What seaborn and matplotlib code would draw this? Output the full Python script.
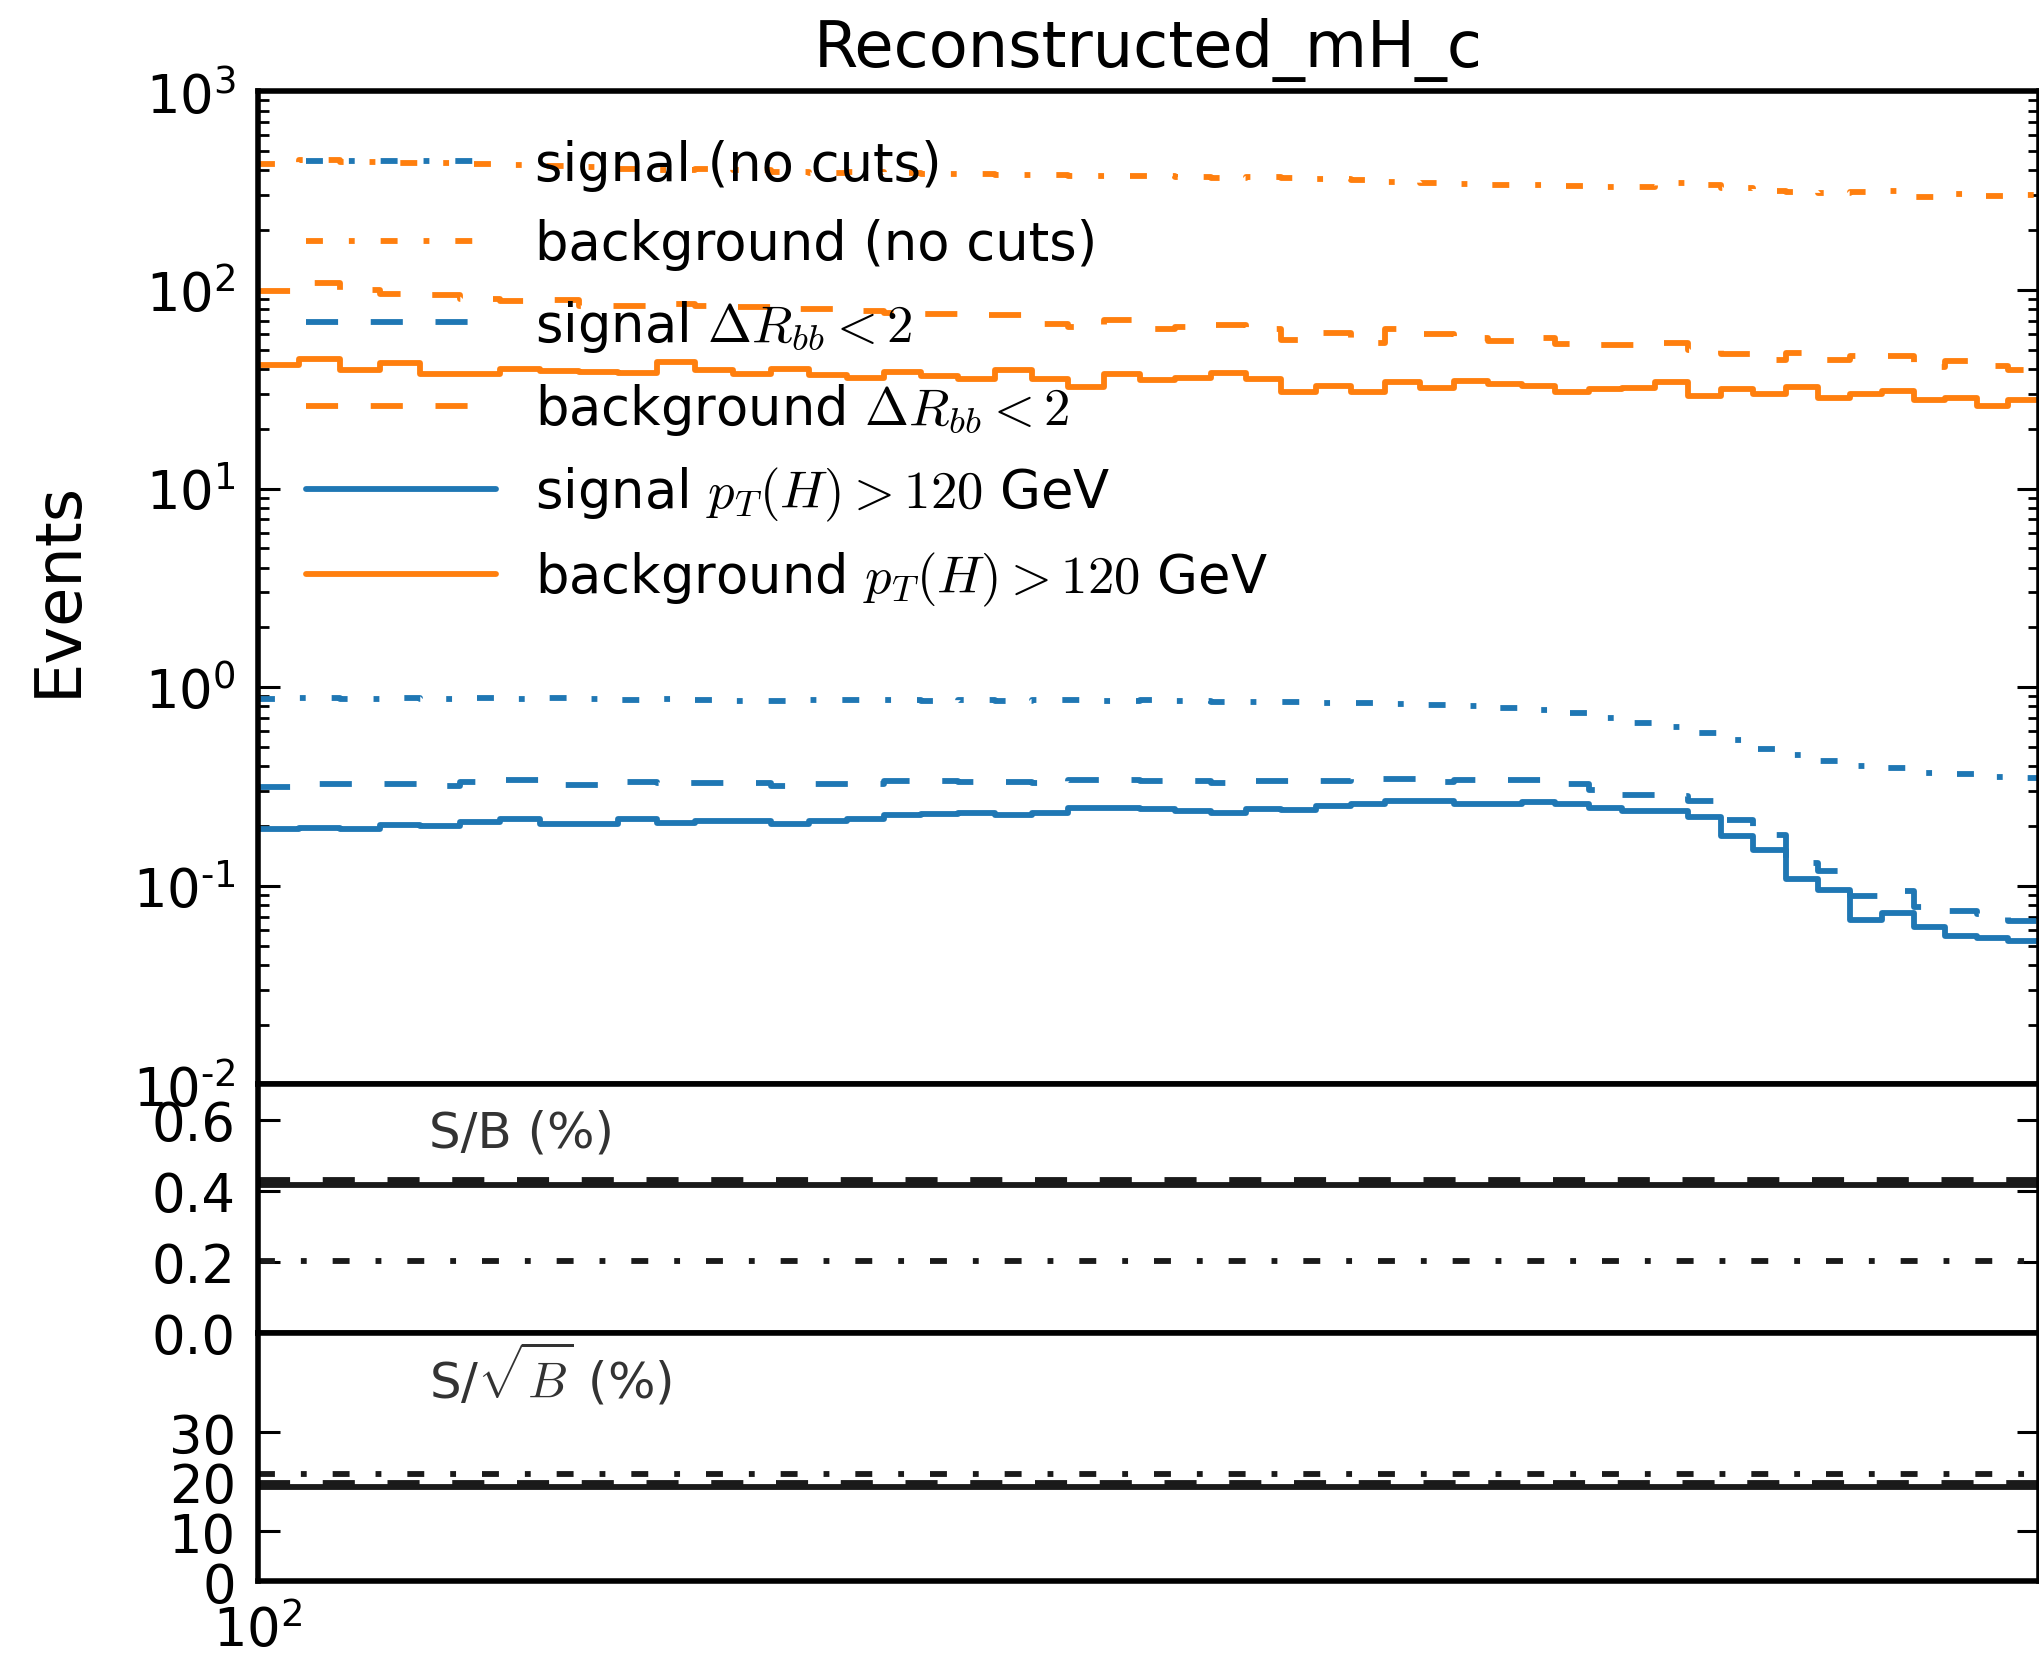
import numpy as np
import matplotlib
matplotlib.use("Agg")
import matplotlib.pyplot as plt
import matplotlib.ticker as mticker
import seaborn as sns

# ============================
# Data
# ============================

# 50 bins of reconstructed mH between 100 and 132.5 GeV
mass_lo = 100.0
mass_hi = 132.5
n_bins = 50

sig_nocut = [0.87, 0.88, 0.87, 0.88, 0.87, 0.88, 0.87, 0.88, 0.87, 0.86,
             0.87, 0.86, 0.85, 0.85, 0.86, 0.86, 0.86, 0.85, 0.86, 0.85,
             0.86, 0.86, 0.85, 0.86, 0.85, 0.84, 0.84, 0.84, 0.83, 0.83,
             0.82, 0.81, 0.80, 0.79, 0.77, 0.74, 0.70, 0.66, 0.63, 0.59,
             0.54, 0.49, 0.455, 0.425, 0.40, 0.39, 0.37, 0.365, 0.355, 0.348]

bkg_nocut = [433, 450, 441, 436, 434, 433, 425, 420, 416, 408,
             400, 408, 400, 393, 390, 392, 386, 384, 382, 378,
             380, 376, 373, 374, 370, 368, 369, 366, 364, 358,
             348, 346, 340, 339, 336, 334, 331, 330, 345, 338,
             325, 315, 312, 309, 311, 315, 294, 306, 296, 302]

sig_dr = [0.316, 0.326, 0.326, 0.326, 0.319, 0.334, 0.341, 0.321, 0.321, 0.335,
          0.328, 0.328, 0.328, 0.318, 0.325, 0.326, 0.336, 0.338, 0.334, 0.334,
          0.331, 0.341, 0.341, 0.338, 0.338, 0.331, 0.337, 0.336, 0.337, 0.345,
          0.345, 0.335, 0.341, 0.341, 0.341, 0.327, 0.304, 0.287, 0.285, 0.266,
          0.215, 0.181, 0.131, 0.119, 0.089, 0.094, 0.0787, 0.075, 0.072, 0.0667]

bkg_dr = [98.7, 108.0, 100.3, 95.7, 94.7, 90.4, 87.6, 88.6, 82.7, 82.7,
          85.0, 82.7, 82.0, 80.0, 80.0, 78.0, 77.0, 76.0, 75.0, 74.5,
          67.6, 65.0, 70.8, 63.8, 65.0, 66.9, 63.8, 56.2, 61.0, 54.0,
          63.8, 60.0, 57.5, 55.1, 57.4, 53.2, 53.0, 52.6, 54.0, 49.7,
          47.7, 44.5, 48.0, 44.2, 46.3, 46.3, 40.9, 43.7, 41.5, 39.4]

sig_pt = [0.193, 0.195, 0.194, 0.203, 0.201, 0.209, 0.217, 0.204, 0.204, 0.217,
          0.208, 0.213, 0.213, 0.205, 0.212, 0.216, 0.228, 0.229, 0.234, 0.228,
          0.233, 0.248, 0.246, 0.245, 0.239, 0.234, 0.243, 0.242, 0.251, 0.258,
          0.268, 0.268, 0.258, 0.258, 0.265, 0.259, 0.248, 0.239, 0.239, 0.223,
          0.179, 0.151, 0.108, 0.0953, 0.0673, 0.073, 0.0622, 0.0556, 0.0546, 0.0529]

bkg_pt = [42.0, 45.1, 39.7, 42.8, 37.9, 37.6, 39.8, 39.0, 38.6, 38.2,
          43.3, 39.7, 37.6, 39.9, 37.5, 36.2, 38.5, 36.8, 35.5, 39.4,
          35.8, 32.4, 37.6, 35.3, 36.0, 38.2, 35.8, 30.6, 33.0, 30.8,
          34.4, 32.2, 35.0, 33.7, 33.0, 30.6, 31.6, 32.0, 34.4, 29.4,
          31.8, 30.0, 32.4, 28.7, 30.0, 31.0, 27.8, 28.6, 26.2, 27.8]

# integrated S/B and S/sqrt(B) (in %) for the three selections
sb_values = {"nocut": 0.202, "dr": 0.43, "pt": 0.418}
ssb_values = {"nocut": 21.5, "dr": 19.7, "pt": 18.85}

legend_labels = [
    "signal (no cuts)",
    "background (no cuts)",
    r"signal $\Delta R_{bb} < 2$",
    r"background $\Delta R_{bb} < 2$",
    r"signal $p_T(H) > 120$ GeV",
    r"background $p_T(H) > 120$ GeV",
]

# ============================
# Style
# ============================
sns.set_theme(style="ticks", rc={
    "axes.edgecolor": "black",
    "axes.linewidth": 2.0,
    "xtick.color": "black",
    "ytick.color": "black",
    "text.color": "black",
    "axes.labelcolor": "black",
    "xtick.direction": "in",
    "ytick.direction": "in",
    "xtick.top": True,
    "ytick.right": True,
    "xtick.major.size": 8,
    "ytick.major.size": 8,
    "xtick.minor.size": 4,
    "ytick.minor.size": 4,
    "xtick.major.width": 1.1,
    "ytick.major.width": 1.1,
    "xtick.minor.width": 1.0,
    "ytick.minor.width": 1.0,
    "xtick.major.pad": 8,
    "ytick.major.pad": 8,
})
plt.rcParams["font.family"] = ["DejaVu Sans"]
plt.rcParams["mathtext.fontset"] = "cm"

palette = sns.color_palette("tab10")
blue, orange = palette[0], palette[1]

LW = 2.1
DASHDOT = (0, (2.9, 4.45, 1.0, 4.45))
DASHED = (0, (5.5, 5.6))
SOLID = "-"

edges = np.linspace(mass_lo, mass_hi, n_bins + 1)


def step_line(ax, values, color, ls, label):
    """Draw one histogram as a step line."""
    y = np.append(values, values[-1])
    sns.lineplot(x=edges, y=y, ax=ax, color=color, linestyle=ls, lw=LW,
                 drawstyle="steps-post", label=label, legend=False)


def decade_label(val, pos):
    """10^n tick label with a short hyphen for negative powers."""
    if val <= 0:
        return ""
    exp = int(np.round(np.log10(val)))
    return r"$\mathdefault{10^{%s}}$" % str(exp).replace("-", "\u2010")


# ============================
# Figure
# ============================
fig = plt.figure(figsize=(10.2, 8.29), dpi=200)
gs = fig.add_gridspec(3, 1, height_ratios=[4, 1, 1], hspace=0,
                      left=0.1265, right=0.9995, top=0.9443, bottom=0.0458)
ax_top = fig.add_subplot(gs[0])
ax_mid = fig.add_subplot(gs[1], sharex=ax_top)
ax_bot = fig.add_subplot(gs[2], sharex=ax_top)

series = [
    (sig_nocut, blue, DASHDOT),
    (bkg_nocut, orange, DASHDOT),
    (sig_dr, blue, DASHED),
    (bkg_dr, orange, DASHED),
    (sig_pt, blue, SOLID),
    (bkg_pt, orange, SOLID),
]
for (vals, col, ls), lab in zip(series, legend_labels):
    step_line(ax_top, vals, col, ls, lab)

ax_top.set_xscale("log")
ax_top.set_yscale("log")
ax_top.set_xlim(mass_lo, mass_hi)
ax_top.set_ylim(1e-2, 1e3)
ax_top.yaxis.set_major_locator(mticker.LogLocator(base=10, numticks=10))
ax_top.yaxis.set_major_formatter(mticker.FuncFormatter(decade_label))
ax_top.yaxis.set_minor_locator(mticker.LogLocator(base=10, subs=np.arange(2, 10), numticks=20))
ax_top.yaxis.set_minor_formatter(mticker.NullFormatter())
ax_top.xaxis.set_minor_locator(mticker.NullLocator())

ax_top.set_title("Reconstructed_mH_c", fontsize=23, pad=9)
ax_top.set_ylabel("Events", fontsize=23)
ax_top.yaxis.set_label_coords(-0.095, 0.5)

handles, labels = ax_top.get_legend_handles_labels()
ax_top.legend(handles, labels, loc="upper left", frameon=False, fontsize=19,
              handlelength=3.6, handletextpad=0.75, labelspacing=0.52,
              borderaxespad=0.5)

# S/B panel
ax_mid.axhline(sb_values["nocut"], color="k", lw=LW, linestyle=DASHDOT)
ax_mid.axhline(sb_values["dr"], color="k", lw=LW, linestyle=DASHED)
ax_mid.axhline(sb_values["pt"], color="k", lw=LW, linestyle=SOLID)
ax_mid.set_ylim(0, 0.7)
ax_mid.set_yticks([0.0, 0.2, 0.4, 0.6])
ax_mid.yaxis.set_major_formatter(mticker.FormatStrFormatter("%.1f"))
ax_mid.text(0.096, 0.75, "S/B (%)", transform=ax_mid.transAxes,
            fontsize=18, color="0.2")

# S/sqrt(B) panel
ax_bot.axhline(ssb_values["nocut"], color="k", lw=LW, linestyle=DASHDOT)
ax_bot.axhline(ssb_values["dr"], color="k", lw=LW, linestyle=DASHED)
ax_bot.axhline(ssb_values["pt"], color="k", lw=LW, linestyle=SOLID)
ax_bot.set_ylim(0, 50)
ax_bot.set_yticks([0, 10, 20, 30])
ax_bot.text(0.096, 0.745, r"S/$\sqrt{B}$ (%)", transform=ax_bot.transAxes,
            fontsize=18, color="0.2")

for ax in (ax_top, ax_mid, ax_bot):
    ax.tick_params(which="both", direction="in", top=True, right=True,
                   labelsize=19)
    ax.set_xlabel("")
for ax in (ax_top, ax_mid):
    ax.tick_params(axis="x", which="both", labelbottom=False)

ax_bot.xaxis.set_major_locator(mticker.FixedLocator([mass_lo]))
ax_bot.xaxis.set_major_formatter(mticker.FuncFormatter(decade_label))
ax_bot.xaxis.set_minor_locator(mticker.NullLocator())

fig.savefig("out.png", dpi=200)
plt.close(fig)
